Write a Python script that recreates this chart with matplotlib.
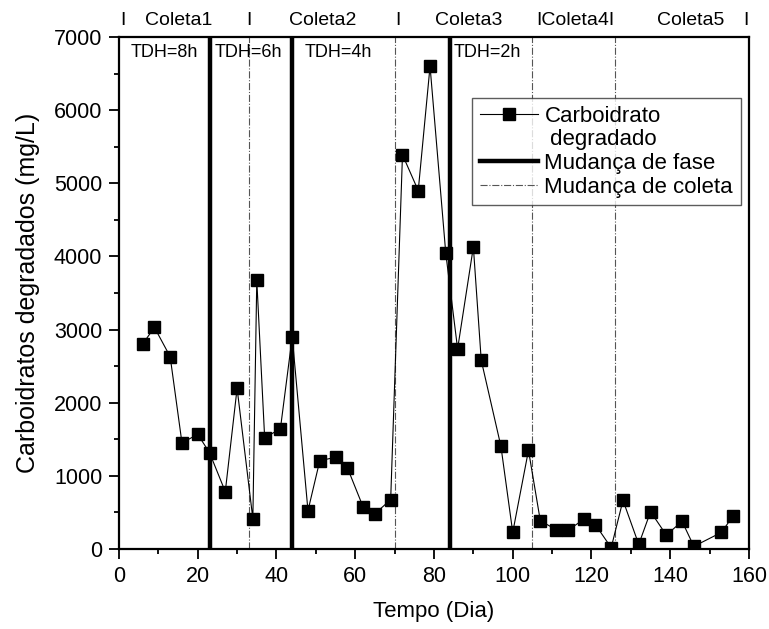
import matplotlib
matplotlib.use("Agg")
import matplotlib.pyplot as plt
from matplotlib.lines import Line2D
from matplotlib.ticker import MultipleLocator

plt.rcParams['font.family'] = ['Liberation Sans', 'DejaVu Sans']

# dados
dias = [6, 9, 13, 16, 20, 23, 27, 30, 34, 35, 37, 41, 44, 48, 51, 55, 58, 62, 65, 69,
        72, 76, 79, 83, 86, 90, 92, 97, 100, 104, 107, 111, 114, 118, 121, 125, 128,
        132, 135, 139, 143, 146, 153, 156]
carb = [2800, 3030, 2630, 1450, 1568, 1317, 784, 2197, 414, 3675, 1518, 1645, 2900,
        524, 1208, 1253, 1112, 575, 483, 674, 5390, 4900, 6600, 4040, 2736, 4130,
        2580, 1404, 227, 1349, 387, 264, 254, 405, 332, 18, 665, 63, 510, 191, 378,
        36, 227, 455]

fases = [23, 44, 84]
coletas = [33, 70, 105, 126]
tdh_x = [3, 24.4, 47.2, 84.9]
tdh_txt = ['TDH=8h', 'TDH=6h', 'TDH=4h', 'TDH=2h']
topo_x = [1.1, 15.2, 33.1, 51.8, 70.9, 88.7, 116.0, 145.1, 159.3]
topo_txt = ['I', 'Coleta1', 'I', 'Coleta2', 'I', 'Coleta3', 'IColeta4I', 'Coleta5', 'I']

fig = plt.figure(figsize=(7.69, 6.29), dpi=100)
ax = fig.add_axes([0.1547, 0.1272, 0.974 - 0.1547, 0.9412 - 0.1272])

ax.plot(dias, carb, color='black', lw=0.8, marker='s', markersize=8.5,
        markerfacecolor='black', markeredgecolor='black', zorder=3)
for f in fases:
    ax.axvline(f, color='black', lw=3.2, zorder=2)
for c in coletas:
    ax.axvline(c, color='#555555', lw=0.8, ls='-.', zorder=1)

for x, t in zip(tdh_x, tdh_txt):
    ax.text(x, 6785, t, fontsize=13, ha='left', va='center')
for x, t in zip(topo_x, topo_txt):
    ax.text(x, 7220, t, fontsize=14, ha='center', va='center')

ax.set_xlim(0, 160)
ax.set_ylim(0, 7000)
ax.xaxis.set_major_locator(MultipleLocator(20))
ax.xaxis.set_minor_locator(MultipleLocator(10))
ax.yaxis.set_major_locator(MultipleLocator(1000))
ax.yaxis.set_minor_locator(MultipleLocator(500))
ax.tick_params(which='major', direction='out', length=7, width=1.3, labelsize=15.5, pad=5)
ax.tick_params(which='minor', direction='out', length=3.5, width=1.3)
for s in ax.spines.values():
    s.set_linewidth(1.6)

ax.set_xlabel('Tempo (Dia)', fontsize=16, labelpad=10)
ax.set_ylabel('Carboidratos degradados (mg/L)', fontsize=18, labelpad=10)

handles = [
    Line2D([], [], color='black', lw=0.8, marker='s', markersize=8.5),
    Line2D([], [], color='none'),
    Line2D([], [], color='black', lw=3.2),
    Line2D([], [], color='#555555', lw=0.8, ls='-.'),
]
labels = ['Carboidrato', ' degradado', 'Mudança de fase', 'Mudança de coleta']
leg = ax.legend(handles, labels, loc='upper right', bbox_to_anchor=(0.987, 0.881),
                fontsize=16, frameon=True, fancybox=False, edgecolor='#333333',
                handlelength=2.6, borderpad=0.35, labelspacing=0.12,
                handletextpad=0.3, borderaxespad=0)
leg.get_frame().set_linewidth(1)

fig.savefig('out.png', dpi=100)
